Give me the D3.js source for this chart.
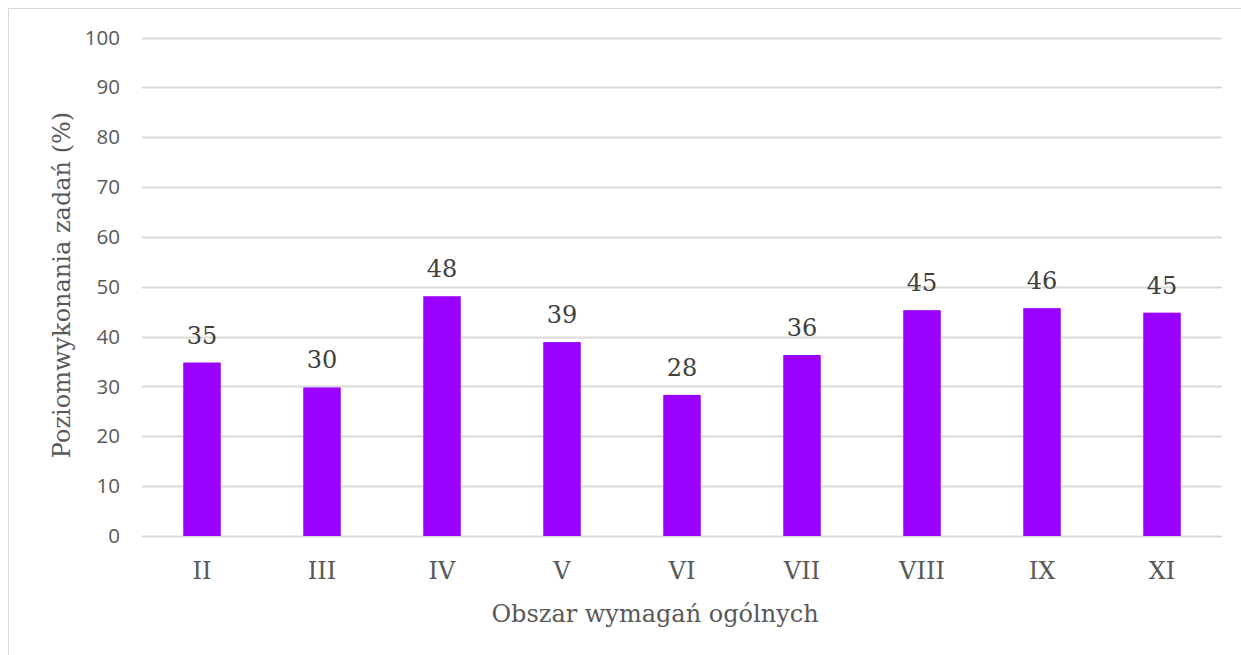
<!DOCTYPE html>
<html lang="pl">
  <head>
    <meta charset="UTF-8" />
    <title>Poziom wykonania zadań</title>
    <script src="https://d3js.org/d3.v7.min.js"></script>
    <style>
      body {
        margin: 0;
        background: #fff;
      }
      .tick-y text {
        font-family: "Open Sans", sans-serif;
        font-size: 20.5px;
        fill: #595959;
      }
      .serif {
        font-family: "DejaVu Serif", serif;
        fill: #595959;
      }
    </style>
  </head>
  <body>
    <div id="chart"></div>

    <script>
      // data
      const categories = ["II", "III", "IV", "V", "VI", "VII", "VIII", "IX", "XI"];
      const values = [34.8, 29.8, 48.1, 38.9, 28.3, 36.3, 45.3, 45.7, 44.8];
      const yTicks = [0, 10, 20, 30, 40, 50, 60, 70, 80, 90, 100];

      const width = 1241;
      const height = 655;
      const margin = { top: 37.5, right: 19, bottom: 119, left: 142 };

      const svg = d3
        .select("#chart")
        .append("svg")
        .attr("width", width)
        .attr("height", height);

      // outer frame
      svg
        .append("rect")
        .attr("x", 8.5)
        .attr("y", 8.5)
        .attr("width", width)
        .attr("height", height)
        .attr("fill", "none")
        .attr("stroke", "#d9d9d9");

      const x = d3
        .scaleBand()
        .domain(categories)
        .range([margin.left, width - margin.right])
        .paddingInner(0.6875)
        .paddingOuter(0.34375);

      const y = d3
        .scaleLinear()
        .domain([0, 100])
        .range([height - margin.bottom, margin.top]);

      // gridlines
      svg
        .append("g")
        .selectAll("line")
        .data(yTicks)
        .join("line")
        .attr("x1", margin.left)
        .attr("x2", width - margin.right)
        .attr("y1", (d) => Math.round(y(d)) + 0.5)
        .attr("y2", (d) => Math.round(y(d)) + 0.5)
        .attr("stroke", "#d9d9d9")
        .attr("stroke-width", 2);

      // y axis labels
      const yAxis = svg
        .append("g")
        .attr("class", "tick-y")
        .attr("transform", `translate(${margin.left - 22},0)`)
        .call(d3.axisLeft(y).tickValues(yTicks).tickSize(0).tickPadding(0));
      yAxis.select(".domain").remove();

      // bars
      svg
        .append("g")
        .selectAll("rect")
        .data(values)
        .join("rect")
        .attr("x", (d, i) => x(categories[i]))
        .attr("y", (d) => y(d))
        .attr("width", x.bandwidth())
        .attr("height", (d) => y(0) - y(d))
        .attr("fill", "#9900ff");

      // data labels
      svg
        .append("g")
        .selectAll("text")
        .data(values)
        .join("text")
        .attr("class", "serif")
        .attr("x", (d, i) => x(categories[i]) + x.bandwidth() / 2)
        .attr("y", (d) => y(d) - 19)
        .attr("text-anchor", "middle")
        .style("font-size", "24px")
        .style("fill", "#404040")
        .text((d) => Math.round(d));

      // x axis labels
      const xAxis = svg
        .append("g")
        .attr("transform", `translate(0,${y(0)})`)
        .call(d3.axisBottom(x).tickSize(0).tickPadding(0));
      xAxis.select(".domain").remove();
      xAxis
        .selectAll("text")
        .attr("class", "serif")
        .attr("dy", 0)
        .attr("y", 43)
        .style("font-size", "24px");

      // axis titles
      svg
        .append("text")
        .attr("class", "serif")
        .attr("x", 655)
        .attr("y", 622)
        .attr("text-anchor", "middle")
        .style("font-size", "24px")
        .text("Obszar wymagań ogólnych");

      svg
        .append("text")
        .attr("class", "serif")
        .attr("transform", "translate(70,285) rotate(-90)")
        .attr("text-anchor", "middle")
        .style("font-size", "24px")
        .text("Poziomwykonania zadań (%)");
    </script>
  </body>
</html>
